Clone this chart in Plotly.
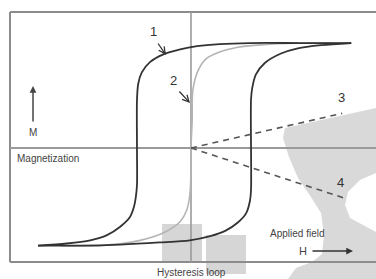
import plotly.graph_objects as go

W, HT = 376, 279

# ---- data (H = applied field, M = magnetization) ----
desc_H = [2.67, 1.82, 0.98, 0.48, 0.10, -0.18, -0.47, -0.68, -0.82, -0.88, -0.90,
          -0.90, -0.90, -0.92, -0.95, -1.02, -1.18, -1.40, -1.68, -2.07, -2.55]
desc_M = [1.00, 1.00, 1.00, 0.99, 0.97, 0.94, 0.89, 0.82, 0.72, 0.61, 0.46,
          -0.02, -0.35, -0.47, -0.56, -0.66, -0.75, -0.83, -0.88, -0.91, -0.93]

asc_H = [-2.55, -1.85, -1.18, -0.52, -0.02, 0.32, 0.57, 0.78, 0.92, 0.98, 1.00,
         1.00, 1.02, 1.08, 1.23, 1.50, 1.78, 2.17, 2.67]
asc_M = [-0.93, -0.93, -0.92, -0.90, -0.88, -0.84, -0.79, -0.71, -0.62, -0.51, -0.40,
         0.46, 0.57, 0.70, 0.81, 0.90, 0.95, 0.98, 1.00]

init_H = [-2.18, -1.52, -0.85, -0.43, -0.18, -0.07, -0.02, 0.00, 0.00, 0.02, 0.03,
          0.12, 0.25, 0.50, 0.78, 1.33, 1.98, 2.67]
init_M = [-0.93, -0.93, -0.88, -0.80, -0.70, -0.59, -0.45, -0.21, 0.00, 0.27, 0.55,
          0.74, 0.85, 0.92, 0.96, 0.99, 1.00, 1.00]

line3_H = [0.0, 2.52]
line3_M = [0.0, 0.33]
line4_H = [0.0, 2.57]
line4_M = [0.0, -0.48]

curve_labels = ["1", "2", "3", "4"]

X_RANGE = [-3.183, 3.083]
Y_RANGE = [-1.248, 1.410]


def P(x, y):
    return x / W, 1 - y / HT


def path(pts):
    s = ""
    for i, (x, y) in enumerate(pts):
        px, py = P(x, y)
        s += ("M" if i == 0 else "L") + f"{px:.4f},{py:.4f} "
    return s + "Z"


fig = go.Figure()

fig.add_trace(go.Scatter(x=init_H, y=init_M, mode="lines",
                         line=dict(color="#b4b4b4", width=1.6, shape="spline", smoothing=0.8),
                         hoverinfo="skip"))
fig.add_trace(go.Scatter(x=desc_H, y=desc_M, mode="lines",
                         line=dict(color="#333333", width=1.8, shape="spline", smoothing=0.8),
                         hoverinfo="skip"))
fig.add_trace(go.Scatter(x=asc_H, y=asc_M, mode="lines",
                         line=dict(color="#333333", width=1.8, shape="spline", smoothing=0.8),
                         hoverinfo="skip"))
fig.add_trace(go.Scatter(x=line3_H, y=line3_M, mode="lines",
                         line=dict(color="#555555", width=1.6, dash="6px,5px"),
                         hoverinfo="skip"))
fig.add_trace(go.Scatter(x=line4_H, y=line4_M, mode="lines",
                         line=dict(color="#555555", width=1.6, dash="6px,5px"),
                         hoverinfo="skip"))

shapes = []
# watermark blobs (background)
wm = "#d9d9d9"
shapes.append(dict(type="path", xref="paper", yref="paper", layer="below",
                   fillcolor="#d6d6d6", line=dict(width=0),
                   path=path([(162, 224), (202, 224), (202, 263), (162, 263)])))
shapes.append(dict(type="path", xref="paper", yref="paper", layer="below",
                   fillcolor="#d6d6d6", line=dict(width=0),
                   path=path([(206, 235), (246, 235), (246, 274), (206, 274)])))
shapes.append(dict(type="path", xref="paper", yref="paper", layer="below",
                   fillcolor=wm, line=dict(width=0),
                   path=path([(285, 128), (376, 108), (376, 173), (360, 180), (348, 192),
                              (345, 205), (350, 218), (376, 232), (376, 279), (288, 279),
                              (296, 268), (312, 262), (322, 254), (324, 235), (321, 213),
                              (311, 197), (298, 178), (289, 157), (283, 138)])))

# frame
fc = "#8c8c8c"
for (a, b) in [((10, 12), (376, 12)), ((10, 12), (10, 262)), ((10, 262), (376, 262))]:
    x0, y0 = P(*a)
    x1, y1 = P(*b)
    shapes.append(dict(type="line", xref="paper", yref="paper", x0=x0, y0=y0, x1=x1, y1=y1,
                       line=dict(color=fc, width=2), layer="below"))
# axis cross lines
x0, y0 = P(191, 12); x1, y1 = P(191, 262)
shapes.append(dict(type="line", xref="paper", yref="paper", x0=x0, y0=y0, x1=x1, y1=y1,
                   line=dict(color="#9a9a9a", width=1.6), layer="below"))
x0, y0 = P(10, 148); x1, y1 = P(376, 148)
shapes.append(dict(type="line", xref="paper", yref="paper", x0=x0, y0=y0, x1=x1, y1=y1,
                   line=dict(color="#9a9a9a", width=2), layer="below"))

ann = []
FONT = "Liberation Sans, Arial, sans-serif"


def txt(t, x, y, size=10, color="#444444", xanchor="center"):
    px, py = P(x, y)
    ann.append(dict(text=t, x=px, y=py, xref="paper", yref="paper", showarrow=False,
                    xanchor=xanchor, yanchor="middle",
                    font=dict(family=FONT, size=size, color=color)))


def arrow(hx, hy, tx, ty, head=5, size=1.0, width=1.3, color="#333333"):
    px, py = P(hx, hy)
    ann.append(dict(text="", x=px, y=py, xref="paper", yref="paper", showarrow=True,
                    ax=tx - hx, ay=ty - hy, arrowhead=head, arrowsize=size,
                    arrowwidth=width, arrowcolor=color))


txt(curve_labels[0], 153, 32, 13, "#333333")
txt(curve_labels[1], 173, 80, 13, "#333333")
txt(curve_labels[2], 341, 97, 13, "#333333")
txt(curve_labels[3], 340, 182, 13, "#333333")
arrow(166, 55, 157, 42)
arrow(190, 103, 178, 90)

txt("M", 33, 133, 10)
arrow(33, 86, 33, 123, head=2, size=0.9, width=1.5, color="#444444")
txt("Magnetization", 15, 158, 10, xanchor="left")
txt("Applied field", 268, 233, 10, xanchor="left")
txt("H", 303, 251, 11)
arrow(353, 251, 311, 251, head=2, size=0.9, width=1.5, color="#333333")
txt("Hysteresis loop", 192, 272, 10)

fig.update_layout(
    width=W, height=HT,
    margin=dict(l=0, r=0, t=0, b=0),
    paper_bgcolor="white", plot_bgcolor="white",
    showlegend=False,
    xaxis=dict(range=X_RANGE, visible=False, fixedrange=True),
    yaxis=dict(range=Y_RANGE, visible=False, fixedrange=True),
    shapes=shapes, annotations=ann,
)

fig.write_html("out.html", config={"displayModeBar": False},
               post_script="document.body.style.margin='0';document.body.style.overflow='hidden';")
